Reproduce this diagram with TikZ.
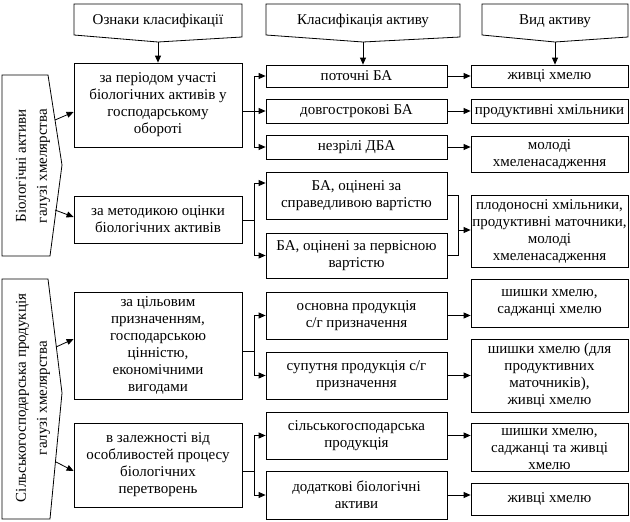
\documentclass[tikz,border=0pt]{standalone}
\usepackage{fontspec}
\setmainfont{Liberation Serif}
\usetikzlibrary{arrows.meta,calc}
\begin{document}
\begin{tikzpicture}[x=1pt,y=-1pt,line width=0.8pt,
  every node/.style={font=\fontsize{15}{17}\selectfont},
  box/.style={draw,rectangle,align=center,inner sep=1pt},
  c1box/.style={box,minimum width=168pt},
  c2box/.style={box,minimum width=181pt},
  c3box/.style={box,minimum width=157pt},
  lbl/.style={align=center,inner sep=0pt},
  side/.style={align=center,inner sep=0pt,rotate=90,font=\fontsize{15}{21}\selectfont},
  arr/.style={-{Triangle[length=7pt,width=6pt]}},
  ln/.style={-}]
\useasboundingbox (0,0) rectangle (630,522);

% headers
\draw (74,4) -- (242,4) -- (242,37) -- (158,42) -- (74,35) -- cycle;
\coordinate (h1p) at (158,42);
\node[lbl] (h1) at (158,21) {Ознаки класифікації};
\draw (266,4) -- (460,4) -- (460,37) -- (363,42) -- (266,35) -- cycle;
\coordinate (h2p) at (363,42);
\node[lbl] (h2) at (363,21) {Класифікація активу};
\draw (482,4) -- (628,4) -- (628,37) -- (555,42) -- (482,35) -- cycle;
\coordinate (h3p) at (555,42);
\node[lbl] (h3) at (555,21) {Вид активу};

% left side shapes
\draw (2,75) -- (48,75) -- (62,165) -- (50,256) -- (2,256) -- cycle;
\node[side] (L1) at (33,166) {Біологічні активи\\галузі хмелярства};
\coordinate (l1u) at (55,120);
\coordinate (l1d) at (55,210);
\draw (2,279) -- (48,279) -- (62,393) -- (50,519) -- (2,519) -- cycle;
\node[side] (L2) at (33,398) {Сільськогосподарська продукція\\галузі хмелярства};
\coordinate (l2u) at (56,347);
\coordinate (l2d) at (56,462);

% column 1
\node[c1box,minimum height=84pt] (p1) at (158,105) {за періодом участі\\біологічних активів у\\господарському\\обороті};
\node[c1box,minimum height=47pt] (p2) at (158,219.5) {за методикою оцінки\\біологічних активів};
\node[c1box,minimum height=107pt] (p3) at (158,345.5) {за цільовим\\призначенням,\\господарською\\цінністю,\\економічними\\вигодами};
\node[c1box,minimum height=84pt] (p4) at (158,465) {в залежності від\\особливостей процесу\\біологічних\\перетворень};

% column 2
\node[c2box,minimum height=22pt] (c1) at (356.5,76) {поточні БА};
\node[c2box,minimum height=24pt] (c2) at (356.5,111) {довгострокові БА};
\node[c2box,minimum height=24pt] (c3) at (356.5,147) {незрілі ДБА};
\node[c2box,minimum height=47pt] (c4) at (356.5,195.5) {БА, оцінені за\\справедливою вартістю};
\node[c2box,minimum height=45pt] (c5) at (356.5,255.5) {БА, оцінені за первісною\\вартістю};
\node[c2box,minimum height=47pt] (c6) at (356.5,315.5) {основна продукція\\с/г призначення};
\node[c2box,minimum height=47pt] (c7) at (356.5,375.5) {супутня продукція с/г\\призначення};
\node[c2box,minimum height=47pt] (c8) at (356.5,435.5) {сільськогосподарська\\продукція};
\node[c2box,minimum height=48pt] (c9) at (356.5,495) {додаткові біологічні\\активи};

% column 3
\node[c3box,minimum height=22pt] (d1) at (549.5,76) {живці хмелю};
\node[c3box,minimum height=24pt] (d2) at (549.5,111) {продуктивні хмільники};
\node[c3box,minimum height=36pt] (d3) at (549.5,154) {молоді\\хмеленасадження};
\node[c3box,minimum height=72pt] (d4) at (549.5,231) {плодоносні хмільники,\\продуктивні маточники,\\молоді\\хмеленасадження};
\node[c3box,minimum height=48pt] (d5) at (549.5,303) {шишки хмелю,\\саджанці хмелю};
\node[c3box,minimum height=73pt] (d6) at (549.5,375.5) {шишки хмелю (для\\продуктивних\\маточників),\\живці хмелю};
\node[c3box,minimum height=48pt] (d7) at (549.5,447) {};
\node[lbl] (d7t) at (549.5,449) {шишки хмелю,\\саджанці та живці\\хмелю};
\node[c3box,minimum height=32pt] (d8) at (549.5,499) {живці хмелю};

% header arrows
\draw[arr] (h1p) -- (p1.north);
\draw[arr] (h2p) -- (h2p |- c1.north);
\draw[arr] (h3p) -- (h3p |- d1.north);

% left arrows
\draw[arr] (l1u) -- ($(p1.west)+(0,7)$);
\draw[arr] (l1d) -- ($(p2.west)+(0,-2.5)$);
\draw[arr] (l2u) -- ($(p3.west)+(0,-6.5)$);
\draw[arr] (l2d) -- ($(p4.west)+(0,6)$);

% branches col1 -> col2
\coordinate (b1) at (254,111);
\draw (p1.east |- b1) -- (b1);
\draw (b1 |- c1) -- (b1 |- c3);
\draw[arr] (b1 |- c1) -- (c1.west);
\draw[arr] (b1 |- c2) -- (c2.west);
\draw[arr] (b1 |- c3) -- (c3.west);

\coordinate (b2) at (254,220);
\coordinate (b2u) at (254,183);
\draw (p2.east |- b2) -- (b2);
\draw (b2u) -- (b2 |- c5);
\draw[arr] (b2u) -- (b2u -| c4.west);
\draw[arr] (b2 |- c5) -- (c5.west);

\coordinate (b3) at (254,351);
\draw (p3.east |- b3) -- (b3);
\draw (b3 |- c6) -- (b3 |- c7);
\draw[arr] (b3 |- c6) -- (c6.west);
\draw[arr] (b3 |- c7) -- (c7.west);

\coordinate (b4) at (254,471);
\draw (p4.east |- b4) -- (b4);
\draw (b4 |- c8) -- (b4 |- c9);
\draw[arr] (b4 |- c8) -- (c8.west);
\draw[arr] (b4 |- c9) -- (c9.west);

% col2 -> col3
\draw[arr] (c1.east) -- (c1.east -| d1.west);
\draw[arr] (c2.east) -- (c2.east -| d2.west);
\draw[arr] (c3.east) -- (c3.east -| d3.west);
\coordinate (m1) at (458,230);
\draw (c4.east) -- (c4.east -| m1) -- (c5.east -| m1) -- (c5.east);
\draw[arr] (m1) -- (m1 -| d4.west);
\draw[arr] (c6.east) -- (c6.east -| d5.west);
\draw[arr] (c7.east) -- (c7.east -| d6.west);
\draw[arr] (c8.east) -- (c8.east -| d7.west);
\draw[arr] (c9.east) -- (c9.east -| d8.west);
\end{tikzpicture}
\end{document}
